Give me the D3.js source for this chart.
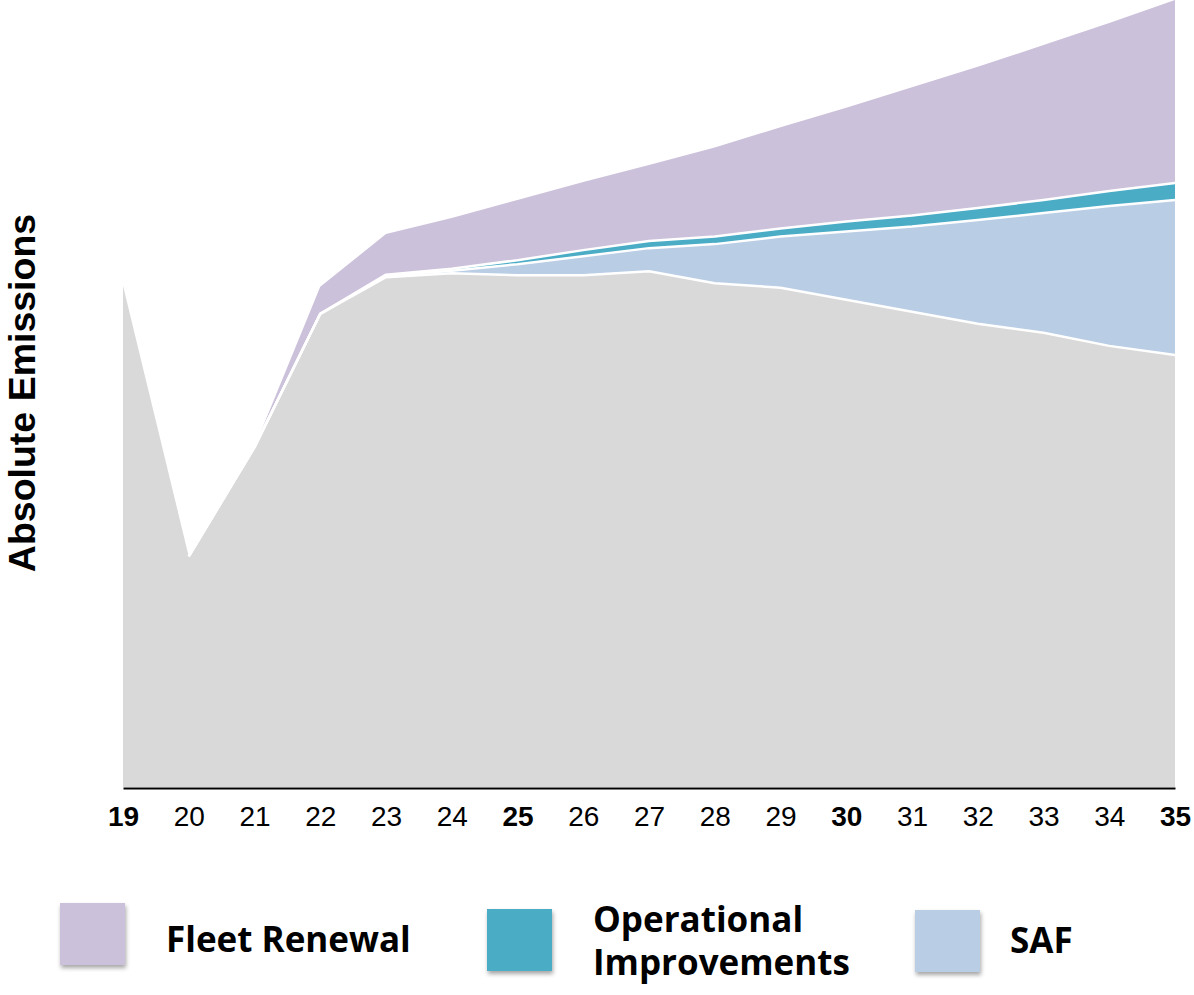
<!DOCTYPE html>
<html>
<head>
<meta charset="utf-8">
<script src="https://cdn.jsdelivr.net/npm/d3@7"></script>
<style>
  html, body { margin: 0; padding: 0; background: #fff; }
  svg { display: block; }
</style>
</head>
<body>
<div id="chart"></div>
<script>
// Emissions index (2019 = 100)
var YEARS = [19, 20, 21, 22, 23, 24, 25, 26, 27, 28, 29, 30, 31, 32, 33, 34, 35];
var BOLD_YEARS = [19, 25, 30, 35];
var REMAINING = [100, 46, 67.8, 94.4, 101.7, 102.5, 102.1, 102.1, 102.9, 100.5, 99.6, 97.2, 94.8, 92.4, 90.6, 88.0, 86.2];
var SAF = [0, 0, 0, 0, 0.3, 0.5, 2.2, 3.8, 4.6, 7.8, 10.2, 13.6, 17.0, 20.7, 23.9, 27.9, 30.9];
var OP_IMPROVEMENTS = [0, 0, 0, 0, 0.2, 0.4, 0.8, 1.2, 1.4, 1.5, 1.6, 2.0, 2.2, 2.4, 2.6, 3.0, 3.4];
var FLEET_RENEWAL = [0, 0, 0, 5.4, 8.1, 10.1, 12.0, 13.6, 15.2, 17.8, 20.2, 22.7, 25.6, 28.2, 30.9, 33.5, 36.5];

var KEYS = ["remaining", "saf", "op", "fleet"];
var COLORS = { remaining: "#d9d9d9", saf: "#b9cde5", op: "#4bacc6", fleet: "#ccc1da" };

var LEGEND = [
  { key: "fleet", lines: ["Fleet Renewal"] },
  { key: "op", lines: ["Operational", "Improvements"] },
  { key: "saf", lines: ["SAF"] }
];

var width = 1194, height = 995;
var margin = { left: 123, right: 19, top: 0, bottom: 208 };

var rows = YEARS.map(function(y, i) {
  return { year: y, remaining: REMAINING[i], saf: SAF[i], op: OP_IMPROVEMENTS[i], fleet: FLEET_RENEWAL[i] };
});

var series = d3.stack().keys(KEYS)(rows);

var svg = d3.select("#chart").append("svg")
  .attr("width", width)
  .attr("height", height);

var x = d3.scaleLinear()
  .domain([19, 35])
  .range([margin.left, width - margin.right]);

var y = d3.scaleLinear()
  .domain([0, 157])
  .range([height - margin.bottom, margin.top]);

var defs = svg.append("defs");
var shadow = defs.append("filter").attr("id", "shadow")
  .attr("x", "-20%").attr("y", "-20%").attr("width", "150%").attr("height", "150%");
shadow.append("feDropShadow")
  .attr("dx", 1).attr("dy", 3).attr("stdDeviation", 2)
  .attr("flood-color", "#000").attr("flood-opacity", 0.35);

var area = d3.area()
  .x(function(d) { return x(d.data.year); })
  .y0(function(d) { return y(d[0]); })
  .y1(function(d) { return y(d[1]); });

// stacked layers
svg.append("g").selectAll("path")
  .data(series)
  .enter().append("path")
  .attr("d", area)
  .attr("fill", function(d) { return COLORS[d.key]; });

// white separators on top of each layer (except outermost); skip the 2019 peak
var topLine = d3.line()
  .x(function(d) { return x(d.data.year); })
  .y(function(d) { return y(d[1]); });

svg.append("g").selectAll("path")
  .data(series.slice(0, 3))
  .enter().append("path")
  .attr("d", function(d) { return topLine(d.slice(1)); })
  .attr("fill", "none")
  .attr("stroke", "#fff")
  .attr("stroke-width", 2.5)
  .attr("stroke-linejoin", "round");

// x axis
var xAxis = d3.axisBottom(x)
  .tickValues(YEARS)
  .tickSize(0)
  .tickPadding(18)
  .tickFormat(d3.format("d"));

var gx = svg.append("g")
  .attr("transform", "translate(0," + (y(0) + 1) + ")")
  .call(xAxis);

gx.select(".domain")
  .attr("stroke", "#000")
  .attr("stroke-width", 2);

gx.selectAll(".tick text")
  .attr("font-family", "'Liberation Sans', Arial, sans-serif")
  .attr("font-size", "28px")
  .attr("fill", "#000")
  .attr("font-weight", function(d) { return BOLD_YEARS.indexOf(d) !== -1 ? "bold" : "normal"; });

// y axis title
svg.append("text")
  .attr("transform", "translate(35,393) rotate(-90)")
  .attr("text-anchor", "middle")
  .attr("font-family", "'Liberation Sans', Arial, sans-serif")
  .attr("font-weight", "bold")
  .attr("font-size", "37.5px")
  .attr("fill", "#000")
  .text("Absolute Emissions");

// legend
var legendX = [60, 487, 915];
var legendY = [903, 909, 910];
var lg = svg.append("g").attr("class", "legend");
LEGEND.forEach(function(item, i) {
  var g = lg.append("g").attr("transform", "translate(" + legendX[i] + "," + legendY[i] + ")");
  g.append("rect")
    .attr("width", 65).attr("height", 62)
    .attr("fill", COLORS[item.key])
    .attr("filter", "url(#shadow)");
  var t = g.append("text")
    .attr("font-family", "'Open Sans', Lato, sans-serif")
    .attr("font-weight", "bold")
    .attr("font-size", "35px")
    .attr("fill", "#000");
  if (item.lines.length > 1) {
    t.append("tspan").attr("x", 106).attr("y", 23).text(item.lines[0]);
    t.append("tspan").attr("x", 106).attr("y", 66).text(item.lines[1]);
  } else {
    t.attr("x", i === 0 ? 106 : 95).attr("y", i === 0 ? 49 : 43).text(item.lines[0]);
  }
});
</script>
</body>
</html>
